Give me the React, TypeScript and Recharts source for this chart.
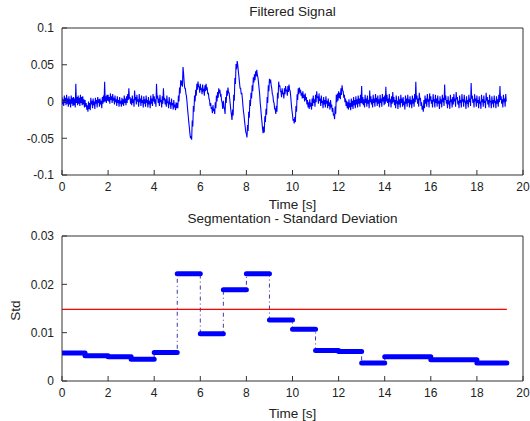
import React from 'react';
import { LineChart, Line, XAxis, YAxis } from 'recharts';

// ---------- data ----------
const SIGNAL_STEP = 0.05; // seconds between envelope samples
// Filtered signal (units of 0.001): upper and lower edge of the dense trace
const signalHighMilli: number[] = [
  6, 3, 8, 5, 9, 4, 7, 3, 8, 5, 6, 4, 24, 6, 8, 5, 9, 6, 7, 3,
  2, -2, -5, 0, -2, 5, 1, 4, 0, 5, 2, 6, 3, 4, 1, 6, 8, 27, 7, 9,
  9, 6, 11, 7, 10, 5, 8, 3, 7, 2, 6, 1, 5, 3, 8, 4, 7, 10, 18, 6,
  4, 8, 3, 15, 6, 9, 3, 10, 4, 8, 2, 7, 3, 8, 2, 6, 1, 8, 4, 10,
  7, 3, 24, 8, 4, 9, 2, 7, 18, 5, 3, 8, 0, 6, -1, 4, -2, 2, -4, -1,
  -2, 8, 19, 29, 28, 47, 26, 18, 7, -11, -28, -44, -47, -26, -6, 8, 16, 24, 27, 20,
  24, 18, 23, 16, 22, 24, 18, 12, 2, -2, -8, -5, -10, -1, 8, 13, 18, 16, 9, -2,
  1, -10, 6, 15, 19, 12, -4, -18, -11, 9, 32, 51, 55, 41, 26, 18, 12, -6, -20, -35,
  -44, -32, -14, 2, 12, 22, 33, 37, 41, 43, 33, 18, -2, -20, -37, -34, -20, -10, 6, 22,
  31, 30, 18, 8, -2, -10, -6, 12, 27, 22, 14, 18, 12, 18, 21, 16, 21, 23, 14, -4,
  -18, -24, -21, -6, 10, 18, 19, 16, 12, 14, 9, 11, 6, 2, -1, 3, -2, 4, 8, 3,
  9, 14, 7, 11, 4, 8, 1, 6, 2, 7, 1, 4, -1, 2, -4, -9, -17, -7, 9, 11,
  14, 12, 18, 22, 14, 9, 4, 1, -1, 3, -2, 4, 1, 6, 2, 7, 3, 8, 4, 9,
  21, 6, 3, 9, 4, 8, 2, 15, 7, 3, 9, 4, 10, 5, 8, 3, 9, 4, 10, 6,
  8, 20, 9, 4, 10, 3, 7, 13, 6, 2, 8, 1, 7, 3, 9, 4, 6, 0, 8, 4,
  9, 3, 7, 2, 8, 4, 10, 27, 8, 4, 12, 5, -1, -6, 2, 8, 4, 10, 3, 11,
  7, 2, 10, 3, 9, 4, 8, 1, 7, 3, 9, 5, 23, 8, 2, 7, 1, 9, 3, 6,
  10, 4, 13, 6, 1, 8, 2, 10, 3, 9, 1, 7, 2, 9, 4, 25, 8, 3, 10, 4,
  8, 2, 7, 0, 9, 3, 8, 1, 12, 6, 2, 9, 1, 7, 2, 8, 1, 7, 3, 9,
  21, 7, 3, 9, 4, 10,
];
const signalLowMilli: number[] = [
  -4, -6, -2, -5, -3, -7, -4, -8, -3, -6, -5, -8, -2, -5, -3, -6, -2, -5, -4, -8,
  -7, -11, -14, -10, -12, -4, -9, -5, -10, -3, -8, -2, -7, -4, -9, -3, -1, 0, -2, 1,
  0, -3, 2, -2, 1, -4, -1, -6, -2, -7, -3, -7, -4, -6, -2, -5, -2, 2, 4, -3,
  -5, -2, -7, 2, -4, 0, -7, -1, -6, -2, -8, -3, -7, -2, -8, -4, -9, -3, -6, 0,
  -3, -7, 4, -2, -6, -1, -8, -3, 2, -4, -7, -2, -9, -4, -10, -5, -11, -8, -12, -9,
  -9, 0, 11, 22, 20, 38, 18, 11, -1, -19, -35, -50, -52, -34, -14, 0, 8, 16, 20, 12,
  16, 10, 15, 8, 14, 17, 10, 4, -6, -10, -16, -13, -17, -9, 0, 5, 11, 8, 1, -10,
  -7, -17, -2, 8, 12, 4, -12, -25, -19, 1, 24, 44, 50, 34, 18, 10, 4, -14, -28, -42,
  -49, -40, -22, -6, 4, 14, 26, 29, 34, 36, 26, 10, -10, -28, -43, -42, -28, -18, -2, 14,
  25, 22, 10, 0, -10, -17, -14, 4, 20, 14, 6, 10, 4, 10, 14, 8, 13, 16, 6, -12,
  -26, -30, -28, -14, 2, 10, 12, 8, 4, 5, 0, 2, -4, -8, -10, -7, -11, -6, -2, -7,
  -1, 5, -3, 1, -6, -2, -9, -4, -8, -3, -9, -6, -11, -8, -14, -19, -24, -17, -1, 1,
  5, 3, 9, 15, 5, -1, -6, -9, -11, -8, -12, -7, -10, -5, -9, -4, -8, -3, -7, -2,
  -3, -5, -8, -2, -7, -3, -9, -1, -4, -8, -2, -7, -1, -6, -3, -8, -2, -7, 0, -5,
  -3, 0, -2, -7, -1, -8, -3, -1, -5, -9, -3, -10, -4, -8, -2, -7, -5, -11, -3, -7,
  -2, -8, -4, -9, -3, -7, -1, 3, -3, -7, 2, -6, -11, -14, -9, -3, -7, 0, -8, 1,
  -3, -8, 0, -8, -2, -7, -3, -10, -3, -8, -1, -6, 2, -3, -9, -4, -10, -1, -8, -4,
  0, -7, 3, -4, -9, -2, -8, 0, -7, -1, -10, -3, -8, -1, -6, 4, -2, -8, 0, -7,
  -2, -9, -3, -10, -1, -7, -2, -9, 1, -4, -8, -1, -9, -3, -8, -2, -9, -3, -7, -1,
  2, -3, -8, -1, -7, 0,
];

// Segment boundaries [s] and standard deviation of each segment
const segmentBounds: number[] = [0, 1, 2, 3, 4, 5, 6, 7, 8, 9, 10, 11, 12, 13, 14, 15, 16, 17, 18, 19.3];
const segmentStd: number[] = [
  0.0058, 0.0052, 0.005, 0.0045, 0.0059, 0.0222, 0.0098, 0.0189, 0.0222, 0.0126,
  0.0107, 0.0063, 0.0061, 0.0037, 0.005, 0.005, 0.0044, 0.0044, 0.0037,
];
const threshold = 0.0148;

const xTicks = [0, 2, 4, 6, 8, 10, 12, 14, 16, 18, 20];
const signalTicks = [-0.1, -0.05, 0, 0.05, 0.1];
const stdTicks = [0, 0.01, 0.02, 0.03];

// ---------- tables ----------
const signalData: { t: number; v: number }[] = [];
signalHighMilli.forEach((hi, i) => {
  const t = i * SIGNAL_STEP;
  signalData.push({ t, v: hi / 1000 });
  signalData.push({ t: t + SIGNAL_STEP / 2, v: signalLowMilli[i] / 1000 });
});

type Row = { t: number; thick?: number | null; dash?: number; thr?: number };
const stdData: Row[] = [];
segmentStd.forEach((v, i) => {
  const s = segmentBounds[i];
  const e = segmentBounds[i + 1];
  stdData.push({ t: s, thick: v, dash: v, thr: i === 0 ? threshold : undefined });
  const last = i === segmentStd.length - 1;
  stdData.push({ t: e, thick: v, dash: v, thr: last ? threshold : undefined });
  if (!last) stdData.push({ t: e, thick: null });
});

// ---------- styles ----------
const FONT = '"Liberation Sans", Arial, Helvetica, sans-serif';
const AXIS = '#333333';
const TEXT = '#222222';
const FS = 12;
const LFS = 13.5;
const tickStyle = { fill: TEXT, fontSize: FS, fontFamily: FONT };
const labelStyle = { fill: TEXT, fontSize: LFS, fontFamily: FONT };

type AxisOpts = {
  yTicks: number[];
  yDomain: [number, number];
  title: string;
  titleOffset: number;
  xLabelOffset: number;
  yLabel?: string;
};

function axes(o: AxisOpts) {
  return [
    <XAxis
      key="xb"
      xAxisId="b"
      dataKey="t"
      type="number"
      domain={[0, 20]}
      ticks={xTicks}
      allowDataOverflow
      height={1}
      tickSize={-5}
      tickMargin={12}
      tick={tickStyle}
      stroke={AXIS}
      tickLine={{ stroke: AXIS }}
      interval={0}
      label={{ value: 'Time [s]', position: 'bottom', offset: o.xLabelOffset, ...labelStyle }}
    />,
    <XAxis
      key="xt"
      xAxisId="top"
      orientation="top"
      dataKey="t"
      type="number"
      domain={[0, 20]}
      ticks={xTicks}
      allowDataOverflow
      height={1}
      tickSize={-5}
      tick={false}
      stroke={AXIS}
      tickLine={{ stroke: AXIS }}
      interval={0}
      label={{ value: o.title, position: 'top', offset: o.titleOffset, ...labelStyle }}
    />,
    <YAxis
      key="yl"
      yAxisId="l"
      type="number"
      domain={o.yDomain}
      ticks={o.yTicks}
      allowDataOverflow
      width={1}
      tickSize={-5}
      tickMargin={13}
      tick={tickStyle}
      stroke={AXIS}
      tickLine={{ stroke: AXIS }}
      interval={0}
      label={
        o.yLabel
          ? {
              value: o.yLabel,
              content: (p: any) => {
                const vb = p.viewBox || {};
                const cx = 15;
                const cy = (vb.y ?? 26) + (vb.height ?? 145) / 2 + 2;
                return (
                  <text
                    x={cx}
                    y={cy}
                    transform={`rotate(-90, ${cx}, ${cy})`}
                    textAnchor="middle"
                    dominantBaseline="central"
                    fill={TEXT}
                    fontSize={LFS}
                    fontFamily={FONT}
                  >
                    {o.yLabel}
                  </text>
                );
              },
            }
          : undefined
      }
    />,
    <YAxis
      key="yr"
      yAxisId="r"
      orientation="right"
      type="number"
      domain={o.yDomain}
      ticks={o.yTicks}
      allowDataOverflow
      width={1}
      tickSize={-5}
      tick={false}
      stroke={AXIS}
      tickLine={{ stroke: AXIS }}
      interval={0}
    />,
  ];
}

export default function App() {
  return (
    <div style={{ position: 'absolute', left: 0, top: 0, width: 530, height: 421, background: '#fff' }}>
      <div style={{ position: 'absolute', left: 0, top: 0 }}>
        <LineChart width={530} height={216} data={signalData} margin={{ left: 61, right: 6, top: 27, bottom: 40 }}>
          {axes({
            yTicks: signalTicks,
            yDomain: [-0.1, 0.1],
            title: 'Filtered Signal',
            titleOffset: 11,
            xLabelOffset: 23,
          })}
          <Line
            xAxisId="b"
            yAxisId="l"
            dataKey="v"
            stroke="#0000ff"
            strokeWidth={1.1}
            dot={false}
            activeDot={false}
            isAnimationActive={false}
          />
        </LineChart>
      </div>
      <div style={{ position: 'absolute', left: 0, top: 210 }}>
        <LineChart width={530} height={211} data={stdData} margin={{ left: 61, right: 6, top: 25, bottom: 39 }}>
          {axes({
            yTicks: stdTicks,
            yDomain: [0, 0.03],
            title: 'Segmentation - Standard Deviation',
            titleOffset: 12,
            xLabelOffset: 26,
            yLabel: 'Std',
          })}
          <Line
            xAxisId="b"
            yAxisId="l"
            dataKey="dash"
            stroke="#3a3aa8"
            strokeWidth={1}
            strokeDasharray="4 3 1 3"
            dot={false}
            activeDot={false}
            connectNulls
            isAnimationActive={false}
          />
          <Line
            xAxisId="b"
            yAxisId="l"
            dataKey="thr"
            stroke="#ff0000"
            strokeWidth={1.3}
            dot={false}
            activeDot={false}
            connectNulls
            isAnimationActive={false}
          />
          <Line
            xAxisId="b"
            yAxisId="l"
            dataKey="thick"
            stroke="#0000ff"
            strokeWidth={5}
            strokeLinecap="round"
            dot={false}
            activeDot={false}
            connectNulls={false}
            isAnimationActive={false}
          />
        </LineChart>
      </div>
    </div>
  );
}
